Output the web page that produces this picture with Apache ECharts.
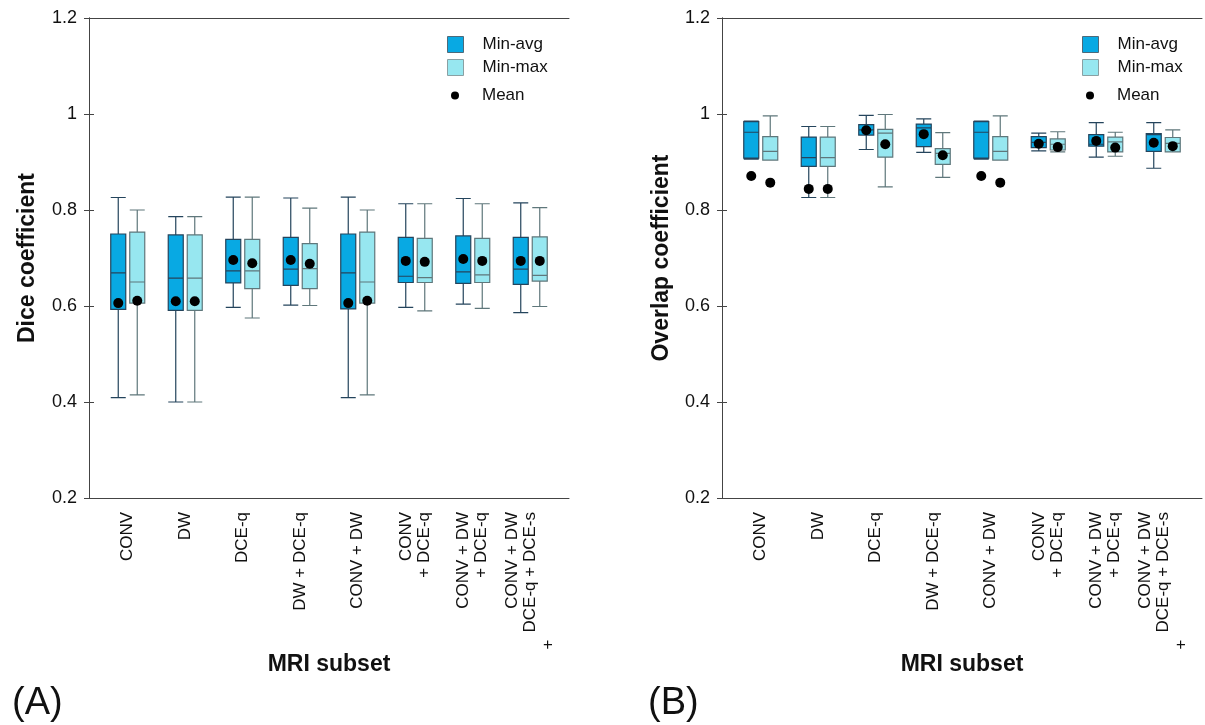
<!DOCTYPE html>
<html lang="en">
<head>
    <meta charset="UTF-8">
    <title>Dice / Overlap coefficient</title>
    <script src="https://cdn.jsdelivr.net/npm/echarts@6/dist/echarts.min.js"></script>
    <style>
        html, body { margin: 0; padding: 0; background: #fff; }
        #main { width: 1205px; height: 725px; }
    </style>
</head>
<body>
<div id="main"></div>
<script type="text/javascript">
    // categories on the x axis
    var categories = ['CONV', 'DW', 'DCE-q', 'DW + DCE-q', 'CONV + DW', 'CONV\n+ DCE-q',
        'CONV + DW\n+ DCE-q', 'CONV + DW\nDCE-q + DCE-s\n+' + '\u00a0'.repeat(27)];

    // (A) Dice coefficient: [min, Q1, median, Q3, max]
    var diceMinAvg = [
        [0.409, 0.593, 0.669, 0.750, 0.826],
        [0.400, 0.591, 0.658, 0.748, 0.786],
        [0.597, 0.648, 0.673, 0.739, 0.827],
        [0.602, 0.643, 0.677, 0.743, 0.825],
        [0.409, 0.594, 0.669, 0.750, 0.827],
        [0.597, 0.649, 0.662, 0.743, 0.813],
        [0.604, 0.647, 0.671, 0.746, 0.824],
        [0.586, 0.645, 0.677, 0.743, 0.815]
    ];
    var diceMinMax = [
        [0.415, 0.606, 0.650, 0.754, 0.800],
        [0.400, 0.591, 0.658, 0.748, 0.786],
        [0.575, 0.636, 0.673, 0.739, 0.827],
        [0.601, 0.636, 0.678, 0.730, 0.804],
        [0.415, 0.606, 0.650, 0.754, 0.800],
        [0.590, 0.649, 0.659, 0.741, 0.813],
        [0.595, 0.649, 0.665, 0.741, 0.813],
        [0.599, 0.652, 0.664, 0.744, 0.805]
    ];
    var diceMeanAvg = [0.606, 0.610, 0.696, 0.696, 0.606, 0.694, 0.698, 0.694];
    var diceMeanMax = [0.611, 0.610, 0.689, 0.688, 0.611, 0.692, 0.694, 0.694];

    // (B) Overlap coefficient
    var overlapMinAvg = [
        [0.906, 0.908, 0.962, 0.984, 0.985],
        [0.826, 0.891, 0.909, 0.952, 0.974],
        [0.926, 0.956, 0.967, 0.978, 0.997],
        [0.920, 0.932, 0.971, 0.979, 0.990],
        [0.906, 0.908, 0.962, 0.984, 0.985],
        [0.923, 0.930, 0.941, 0.953, 0.960],
        [0.910, 0.933, 0.937, 0.957, 0.982],
        [0.887, 0.922, 0.957, 0.959, 0.982]
    ];
    var overlapMinMax = [
        [0.904, 0.904, 0.922, 0.953, 0.996],
        [0.826, 0.891, 0.909, 0.952, 0.974],
        [0.848, 0.910, 0.960, 0.968, 0.999],
        [0.868, 0.895, 0.918, 0.928, 0.961],
        [0.904, 0.904, 0.922, 0.953, 0.996],
        [0.921, 0.925, 0.937, 0.948, 0.963],
        [0.912, 0.921, 0.942, 0.952, 0.962],
        [0.921, 0.921, 0.939, 0.951, 0.967]
    ];
    var overlapMeanAvg = [0.871, 0.844, 0.966, 0.958, 0.871, 0.938, 0.944, 0.940];
    var overlapMeanMax = [0.857, 0.844, 0.937, 0.914, 0.857, 0.931, 0.930, 0.933];

    var colAvg = '#08a9e3', borderAvg = '#24445c';
    var colMax = '#97e7f0', borderMax = '#5f777b';
    var font = 'Liberation Sans, Arial, Helvetica, sans-serif';

    var chart = echarts.init(document.getElementById('main'), null, {renderer: 'canvas'});

    var grids = [], xAxes = [], yAxes = [], series = [], legends = [], titles = [];

    function addPanel(frameLeft, yName, nameGap, avg, max, meanAvg, meanMax, legendLeft, label, labelLeft) {
        var top = 18, h = 480;
        var g0 = grids.length;
        // frame
        grids.push({left: frameLeft, top: top, width: 480, height: h});
        // category labels
        grids.push({left: frameLeft + 10, top: top, width: 460, height: h});
        // Min-avg / Min-max boxes side by side
        grids.push({left: frameLeft + 0.5, top: top, width: 460, height: h});
        grids.push({left: frameLeft + 19.5, top: top, width: 460, height: h});

        var lineStyle = {color: '#444', width: 1};
        var x0 = xAxes.length;
        xAxes.push({gridIndex: g0, type: 'value', min: 0, max: 1, position: 'bottom',
            axisLine: {show: true, lineStyle: lineStyle}, axisTick: {show: false},
            axisLabel: {show: false}, splitLine: {show: false}});
        xAxes.push({gridIndex: g0, type: 'value', min: 0, max: 1, position: 'top',
            axisLine: {show: true, lineStyle: lineStyle}, axisTick: {show: false},
            axisLabel: {show: false}, splitLine: {show: false}});
        xAxes.push({gridIndex: g0 + 1, type: 'category', data: categories,
            axisLine: {show: false}, axisTick: {show: false},
            axisLabel: {rotate: 90, fontSize: 17, margin: 14, lineHeight: 18,
                color: '#111', fontFamily: font, interval: 0},
            name: 'MRI subset', nameLocation: 'middle', nameGap: 155, nameMoveOverlap: false,
            nameTextStyle: {fontSize: 23, fontWeight: 'bold', color: '#111', fontFamily: font}});
        xAxes.push({gridIndex: g0 + 2, type: 'category', data: categories, show: false});
        xAxes.push({gridIndex: g0 + 3, type: 'category', data: categories, show: false});

        var y0 = yAxes.length;
        yAxes.push({gridIndex: g0, type: 'value', min: 0.2, max: 1.2, interval: 0.2, position: 'left',
            axisLine: {show: true, lineStyle: lineStyle},
            axisTick: {show: true, inside: true, length: 5, lineStyle: lineStyle},
            axisLabel: {fontSize: 18, color: '#111', margin: 12, fontFamily: font},
            splitLine: {show: false},
            name: yName, nameLocation: 'middle', nameGap: nameGap, nameMoveOverlap: false,
            nameTextStyle: {fontSize: 23, fontWeight: 'bold', color: '#111', fontFamily: font}});
        yAxes.push({gridIndex: g0, type: 'value', min: 0.2, max: 1.2, interval: 0.2, position: 'right',
            axisLine: {show: true, lineStyle: lineStyle},
            axisTick: {show: true, inside: true, length: 5, lineStyle: lineStyle},
            axisLabel: {show: false}, splitLine: {show: false}});
        for (var k = 1; k <= 3; k++) {
            yAxes.push({gridIndex: g0 + k, type: 'value', min: 0.2, max: 1.2, show: false});
        }
        // grid g0+2 -> x0+3 / y0+3, grid g0+3 -> x0+4 / y0+4
        series.push({name: 'Min-avg', type: 'boxplot', xAxisIndex: x0 + 3, yAxisIndex: y0 + 3,
            data: avg, boxWidth: [15, 15],
            itemStyle: {color: colAvg, borderColor: borderAvg, borderWidth: 1.2}});
        series.push({name: 'Min-max', type: 'boxplot', xAxisIndex: x0 + 4, yAxisIndex: y0 + 4,
            data: max, boxWidth: [15, 15],
            itemStyle: {color: colMax, borderColor: borderMax, borderWidth: 1.2}});
        series.push({name: 'Mean', type: 'scatter', xAxisIndex: x0 + 3, yAxisIndex: y0 + 3,
            data: meanAvg, symbolSize: 10, z: 5, itemStyle: {color: '#000', opacity: 1}});
        series.push({name: 'Mean', type: 'scatter', xAxisIndex: x0 + 4, yAxisIndex: y0 + 4,
            data: meanMax, symbolSize: 10, z: 5, itemStyle: {color: '#000', opacity: 1}});

        legends.push({left: legendLeft, top: 36, orient: 'vertical', padding: 0,
            itemWidth: 16, itemHeight: 16, itemGap: 6, icon: 'rect',
            data: [
                {name: 'Min-avg', itemStyle: {color: colAvg, borderColor: '#4d6a7a', borderWidth: 1}},
                {name: 'Min-max', itemStyle: {color: colMax, borderColor: '#8aa0a3', borderWidth: 1}}
            ],
            textStyle: {fontSize: 17, color: '#111', lineHeight: 16, fontFamily: font,
                padding: [0, 0, 0, 14]}});
        legends.push({left: legendLeft + 4, top: 87, orient: 'vertical', padding: 0,
            itemWidth: 8, itemHeight: 8, icon: 'circle',
            data: [{name: 'Mean', itemStyle: {color: '#000', opacity: 1}}],
            textStyle: {fontSize: 17, color: '#111', lineHeight: 8, fontFamily: font,
                padding: [0, 0, 0, 18]}});

        titles.push({text: label, left: labelLeft, top: 680,
            textStyle: {fontSize: 38, fontWeight: 'normal', color: '#111', fontFamily: font}});
    }

    addPanel(89, 'Dice coefficient', 50, diceMinAvg, diceMinMax, diceMeanAvg, diceMeanMax, 447, '(A)', 7);
    addPanel(722, 'Overlap coefficient', 49, overlapMinAvg, overlapMinMax, overlapMeanAvg, overlapMeanMax, 1082, '(B)', 643);

    var option = {
        animation: false,
        backgroundColor: '#fff',
        title: titles,
        legend: legends,
        grid: grids,
        xAxis: xAxes,
        yAxis: yAxes,
        series: series
    };
    chart.setOption(option);
</script>
</body>
</html>
